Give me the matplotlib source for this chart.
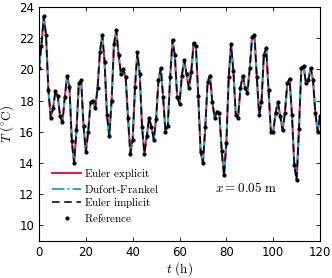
import matplotlib
matplotlib.use("Agg")
import matplotlib.pyplot as plt
import numpy as np

# hourly temperature at x = 0.05 m
t_hours = list(range(0, 121))
temp_c = [
    20.1, 21.5, 23.4, 22.2, 18.7, 16.9, 17.5, 18.6, 18.3, 17.0,   # 0-9
    16.6, 18.2, 19.6, 18.9, 15.4, 14.0, 16.1, 19.1, 19.3, 16.4,   # 10-19
    14.7, 16.0, 17.9, 18.0, 17.5, 18.8, 21.1, 22.2, 20.5, 17.1,   # 20-29
    15.7, 18.0, 21.6, 22.5, 20.9, 19.7, 20.0, 19.5, 16.9, 14.6,   # 30-39
    15.5, 18.9, 21.1, 19.7, 16.3, 14.6, 15.7, 16.9, 16.3, 15.5,   # 40-49
    16.8, 19.3, 20.1, 18.2, 16.0, 16.4, 19.5, 21.9, 20.9, 18.2,   # 50-59
    17.8, 19.6, 20.6, 19.7, 18.8, 19.8, 21.7, 21.5, 18.3, 14.7,   # 60-69
    14.0, 16.3, 19.2, 19.6, 17.9, 16.9, 17.3, 17.2, 14.8, 13.2,   # 70-79
    15.3, 19.5, 21.6, 19.9, 17.1, 16.9, 18.8, 19.6, 18.8, 18.5,   # 80-89
    20.1, 22.1, 22.2, 19.5, 17.1, 17.9, 20.9, 21.4, 18.7, 16.0,   # 90-99
    16.0, 17.2, 17.9, 17.0, 16.1, 17.2, 19.1, 19.4, 17.1, 13.9,   # 100-109
    12.9, 16.2, 20.1, 20.2, 19.1, 19.3, 20.1, 19.3, 17.2, 16.0,   # 110-119
    17.0,                                                         # 120
]
x_label_pos = 0.05

plt.rcParams["mathtext.fontset"] = "cm"
plt.rcParams["font.family"] = ["DejaVu Sans"]

fig = plt.figure(figsize=(3.32, 2.78), dpi=100)
ax = fig.add_axes([0.1175, 0.133, 0.8465, 0.842])

t = np.array(t_hours)
T = np.array(temp_c)

ax.plot(t, T, color="#d6204a", lw=1.5, ls="-", label=r"$\mathrm{Euler\ explicit}$")
ax.plot(t, T, color="#2ba8d0", lw=1.4, ls="-.", label=r"$\mathrm{Dufort\text{-}Frankel}$")
ax.plot(t, T, color="black", lw=1.1, ls=(0, (5, 3)), label=r"$\mathrm{Euler\ implicit}$")
ax.plot(t, T, ls="none", marker="o", ms=2.0, color="black", label=r"$\mathrm{Reference}$")

ax.set_xlim(0, 120)
ax.set_ylim(9, 24)
ax.set_xticks(np.arange(0, 121, 20))
ax.set_yticks(np.arange(10, 25, 2))
ax.tick_params(direction="in", top=True, right=True, labelsize=8.5, length=3, width=0.6)
for s in ax.spines.values():
    s.set_linewidth(0.8)

ax.set_xlabel(r"$t\ \mathrm{(h)}$", fontsize=9.5, labelpad=1)
ax.set_ylabel(r"$T\ \mathrm{(^{\circ}C)}$", fontsize=9.5, labelpad=2)

ax.text(75, 12.4, r"$x = %.2f\ \mathrm{m}$" % x_label_pos, fontsize=9.5, va="center")

leg = ax.legend(loc="lower left", bbox_to_anchor=(0.02, 0.04), frameon=False,
                fontsize=8, handlelength=2.6, handletextpad=0.2,
                labelspacing=0.15, borderaxespad=0.3)

fig.savefig("out.png", dpi=100)
